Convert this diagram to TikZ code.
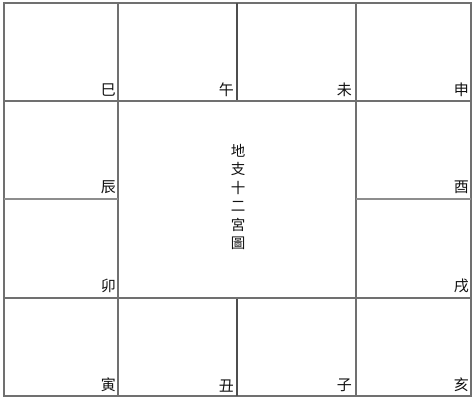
\documentclass[tikz,border=0pt]{standalone}
\usepackage{fontspec}
\newfontfamily\cjk{Noto Sans CJK TC}
\definecolor{gridc}{HTML}{707070}
\definecolor{txt}{HTML}{111111}
\begin{document}
\begin{tikzpicture}[x=1pt,y=-1pt,
  gridline/.style={draw=gridc,line width=1.3pt},
  lab/.style={anchor=south east,inner sep=0pt,font=\cjk\fontsize{15}{15}\selectfont,text=txt},
  title/.style={align=center,inner sep=0pt,font=\cjk\fontsize{14.5}{18.4}\selectfont,text=txt}]
\useasboundingbox[fill=white] (0,0) rectangle (474,400);
% corner coordinates
\coordinate (tl) at (4,3);
\coordinate (br) at (471,396);
% outer border
\draw[gridline] (tl) rectangle (br);
% interior lines
\draw[gridline] (118,3) -- (118,396);
\draw[gridline] (356,3) -- (356,396);
\draw[gridline,draw=gridc!70!black] (237,3) -- (237,101);
\draw[gridline,draw=gridc!70!black] (237,298) -- (237,396);
\draw[gridline] (4,101) -- (471,101);
\draw[gridline] (4,298) -- (471,298);
\draw[gridline,draw=gridc!80] (4,199) -- (118,199);
\draw[gridline,draw=gridc!80] (356,199) -- (471,199);
% labels
\node[lab] (si)   at (116,97)  {巳};
\node[lab] (wu)   at (234,97)  {午};
\node[lab] (wei)  at (352,97)  {未};
\node[lab] (shen) at (469,97)  {申};
\node[lab] (chen) at (116,194) {辰};
\node[lab] (you)  at (469,194) {酉};
\node[lab] (mao)  at (116,293) {卯};
\node[lab] (xu)   at (469,293) {戌};
\node[lab] (yin)  at (116,392) {寅};
\node[lab] (chou) at (234,392) {丑};
\node[lab] (zi)   at (352,392) {子};
\node[lab] (hai)  at (469,392) {亥};
\node[title] (center) at (238,197) {地\\支\\十\\二\\宮\\圖};
\end{tikzpicture}
\end{document}
